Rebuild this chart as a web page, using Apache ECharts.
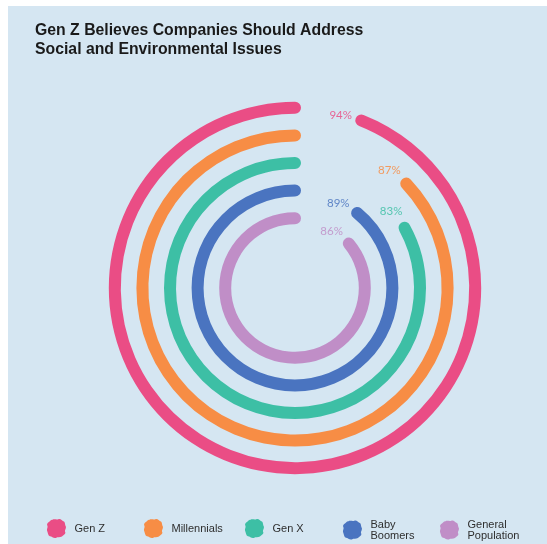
<!DOCTYPE html>
<html>
<head>
<meta charset="utf-8">
<script src="https://cdn.jsdelivr.net/npm/echarts@6/dist/echarts.min.js"></script>
<style>
  html, body { margin: 0; padding: 0; background: #ffffff; }
  #chart { width: 547px; height: 544px; }
</style>
</head>
<body>
<div id="chart"></div>
<script>
// Share of each generation saying companies should address social & environmental issues
const groups = ['Gen Z', 'Millennials', 'Gen X', 'Baby Boomers', 'General Population'];
const legendNames = ['Gen Z', 'Millennials', 'Gen X', 'Baby\nBoomers', 'General\nPopulation'];
const shares = [94, 87, 83, 89, 86];
const colors = ['#ea4d85', '#f78d45', '#3dbfa5', '#4a74c0', '#c08ec7'];

// Paint-splash shape used as legend marker
const splat = 'path://M30,6 C40,0 52,8 60,3 C72,-2 80,10 86,13 C97,17 93,30 99,40 C102,52 91,58 96,69 C99,81 86,85 79,92 C68,99 58,93 47,99 C35,102 28,92 17,91 C7,87 7,74 3,64 C-1,52 9,45 3,34 C0,22 13,18 19,11 C23,6 26,9 30,6 Z';

const chart = echarts.init(document.getElementById('chart'), null, { renderer: 'canvas' });

// One ring per group; all share one stack so each sits alone on its band
const ringSeries = groups.map((g, i) => ({
  type: 'bar',
  name: g,
  coordinateSystem: 'polar',
  stack: 'rings',
  data: groups.map((_, j) => (j === i ? shares[i] : '-')),
  barWidth: 12,
  roundCap: true,
  itemStyle: { color: colors[i] },
  silent: true
}));

// Percentage labels set just past the end of each ring, along its arc
const labelSeries = {
  type: 'custom',
  coordinateSystem: 'polar',
  data: shares.map((v, i) => [i, v]),
  encode: { radius: 0, angle: 1 },
  silent: true,
  renderItem: function (params, api) {
    const i = api.value(0);
    const p = api.coord([i, api.value(1)]);
    const cs = params.coordSys;
    const dx = p[0] - cs.cx, dy = p[1] - cs.cy;
    const r = Math.sqrt(dx * dx + dy * dy) - 2;
    const phi = Math.atan2(dy, dx) - 21 / r;
    return {
      type: 'text',
      x: cs.cx + r * Math.cos(phi),
      y: cs.cy + r * Math.sin(phi),
      style: {
        text: shares[i] + '%',
        fill: colors[i],
        opacity: 0.85,
        font: '11.5px Lato',
        align: 'center',
        verticalAlign: 'middle'
      }
    };
  }
};

const legendLeft = [42, 139, 240, 338, 435];
const legends = groups.map((g, i) => ({
  data: [g],
  left: legendLeft[i],
  top: 514,
  itemWidth: 20,
  itemHeight: 19,
  icon: splat,
  selectedMode: false,
  formatter: () => legendNames[i],
  textStyle: {
    color: '#2e2e2e',
    fontFamily: 'Liberation Sans',
    fontSize: 11,
    lineHeight: 11,
    padding: [0, 0, 0, 3]
  }
}));

chart.setOption({
  animation: false,
  graphic: [{
    type: 'rect',
    left: 8, top: 6,
    shape: { width: 539, height: 538 },
    style: { fill: '#d5e6f2' },
    z: -10
  }],
  title: {
    text: 'Gen Z Believes Companies Should Address\nSocial and Environmental Issues',
    left: 35,
    top: 21,
    padding: 0,
    textStyle: {
      fontFamily: 'Liberation Sans',
      fontWeight: 'bold',
      fontSize: 15.8,
      lineHeight: 19,
      color: '#1a1a1a'
    }
  },
  legend: legends,
  polar: { center: [295, 288], radius: [56, 194] },
  angleAxis: {
    type: 'value',
    min: 0,
    max: 100,
    startAngle: 90,
    clockwise: false,
    show: false
  },
  radiusAxis: {
    type: 'category',
    data: groups,
    inverse: true,
    show: false
  },
  series: ringSeries.concat([labelSeries])
});
</script>
</body>
</html>
